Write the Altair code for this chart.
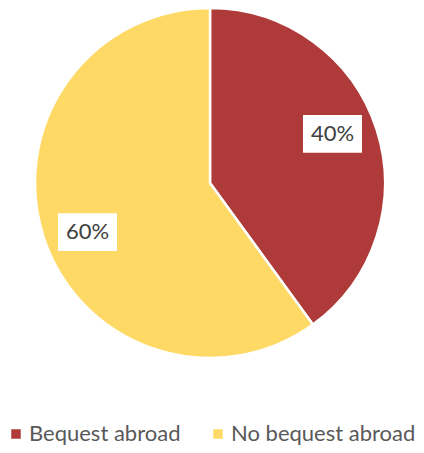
import altair as alt
import pandas as pd

categories = ["Bequest abroad", "No bequest abroad"]
shares = [40, 60]
labels = ["40%", "60%"]
colors = ["#AF3A3A", "#FFD966"]

df = pd.DataFrame({"category": categories, "share": shares, "label": labels, "idx": list(range(len(categories)))})

FONT = "Lato"
CX, CY = 202, 175
R_LABEL = 132
ROT = -0.068  # label rotation (rad), as in the reference placement

base = alt.Chart(df).encode(
    theta=alt.Theta("share:Q", stack=True),
    order=alt.Order("idx:Q"),
)

arc = base.mark_arc(outerRadius=175, stroke="white", strokeWidth=2.5).encode(
    color=alt.Color(
        "category:N",
        scale=alt.Scale(domain=categories, range=colors),
        legend=alt.Legend(
            title=None,
            orient="none",
            legendX=-3,
            legendY=415,
            direction="horizontal",
            symbolType="square",
            symbolSize=90,
            symbolStrokeWidth=0,
            labelFont=FONT,
            labelFontSize=22,
            labelColor="#595959",
            labelOffset=2,
            columnPadding=26,
            labelLimit=300,
        ),
    ),
    x=alt.value(CX),
    y=alt.value(CY),
)

pos = (
    alt.Chart(df)
    .transform_joinaggregate(total="sum(share)")
    .transform_window(cum="sum(share)", sort=[alt.SortField("idx")], frame=[None, 0])
    .transform_calculate(mid=f"(datum.cum - datum.share/2)/datum.total*2*PI + ({ROT})")
    .transform_calculate(
        px=f"{CX} + {R_LABEL}*sin(datum.mid)",
        py=f"{CY} - {R_LABEL}*cos(datum.mid)",
    )
    .encode(x=alt.X("px:Q", scale=None, axis=None), y=alt.Y("py:Q", scale=None, axis=None))
)

box = pos.mark_point(
    shape="M-1,-0.64L1,-0.64L1,0.64L-1,0.64Z",
    size=3481,
    filled=True,
    fill="white",
    opacity=1,
    strokeWidth=0,
)

text = pos.mark_text(font=FONT, fontSize=22, color="#404040", baseline="middle", align="center").encode(
    text="label:N"
)

chart = (
    alt.layer(arc, box, text)
    .properties(width=408, height=437, autosize=alt.AutoSizeParams(type="none"), padding=0)
    .configure_view(stroke=None)
)

chart.save("out.html", embed_options={"renderer": "svg", "actions": False})
